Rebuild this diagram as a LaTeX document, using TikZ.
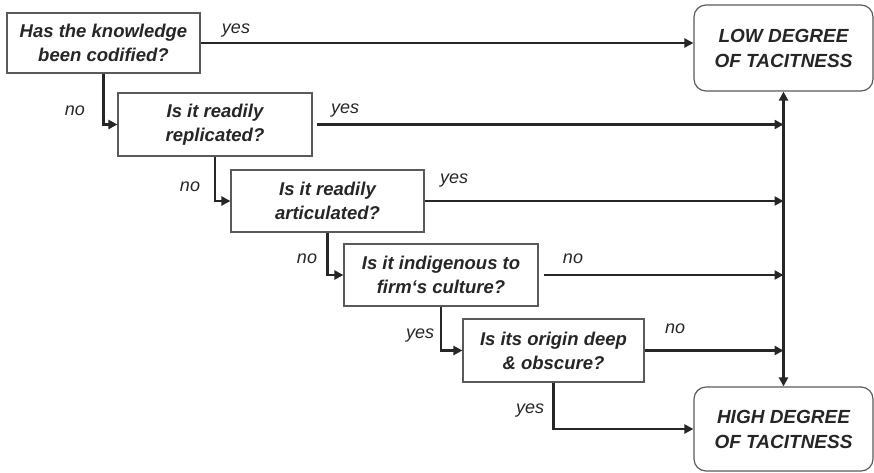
\documentclass[tikz,border=0pt]{standalone}
\usepackage{fontspec}
\setmainfont{Liberation Sans}
\usetikzlibrary{arrows.meta}
\definecolor{ink}{HTML}{262626}
\definecolor{edge}{HTML}{5A5A5A}
\begin{document}
\begin{tikzpicture}[x=1pt,y=-1pt,
  question/.style={draw=edge,line width=1.2pt,fill=white,align=center,
    font=\fontsize{18.5}{24}\selectfont\bfseries\itshape,text=ink,inner sep=0pt},
  outcome/.style={draw=edge,line width=1.2pt,rounded corners=12pt,fill=white,align=center,
    font=\fontsize{19}{25}\selectfont\bfseries\itshape,text=ink,inner sep=0pt,
    minimum width=179pt},
  tip/.style={Triangle[length=9pt,width=9pt]},
  flow/.style={draw=ink,line width=2.4pt,-{Triangle[length=9pt,width=9pt]}},
  answer/.style={font=\fontsize{18}{20}\selectfont\itshape,text=ink,inner sep=0pt}]
\useasboundingbox (0,0) rectangle (874,472);

% question boxes
\node[question,minimum width=193pt,minimum height=60pt] (q1) at (103.5,43) {Has the knowledge\\been codified?};
\node[question,minimum width=194pt,minimum height=63pt] (q2) at (215,124.5) {Is it readily\\replicated?};
\node[question,minimum width=193pt,minimum height=62pt] (q3) at (327.5,201) {Is it readily\\articulated?};
\node[question,minimum width=194pt,minimum height=62pt] (q4) at (441,275) {Is it indigenous to\\firm{\char"2018}s culture?};
\node[question,minimum width=181pt,minimum height=63pt] (q5) at (553.5,350.5) {Is its origin deep\\\& obscure?};

% outcome boxes
\node[outcome,minimum height=86pt] (low) at (783.5,48) {LOW DEGREE\\OF TACITNESS};
\node[outcome,minimum height=84pt] (high) at (783.5,429) {HIGH DEGREE\\OF TACITNESS};

% vertical collector line
\draw[flow,{Triangle[length=9pt,width=9pt]}-{Triangle[length=9pt,width=9pt]}] (low.south) -- (high.north);

% answers leading to an outcome
\draw[flow] (q1.east) -- (q1.east -| low.west);
\draw[flow,shorten <=4pt] (q2.east) -- (q2.east -| low.south);
\draw[flow] (q3.east) -- (q3.east -| low.south);
\draw[flow,shorten <=5pt] (q4.east) -- (q4.east -| low.south);
\draw[flow] (q5.east) -- (q5.east -| low.south);
\draw[flow] (q5.south) |- (high.west);

% answers leading to the next question
\draw[flow] (q1.south) |- (q2.west);
\draw[flow] (q2.south) |- (q3.west);
\draw[flow] (q3.south) |- (q4.west);
\draw[flow] (q4.south) |- (q5.west);

% answer labels
\node[answer] (a1) at (236,31) {yes};
\node[answer] (a2) at (75,111) {no};
\node[answer] (a3) at (345,111) {yes};
\node[answer] (a4) at (190,187) {no};
\node[answer] (a5) at (454,181) {yes};
\node[answer] (a6) at (307,259) {no};
\node[answer] (a7) at (573,259) {no};
\node[answer] (a8) at (420,336) {yes};
\node[answer] (a9) at (675,329) {no};
\node[answer] (a10) at (530,411) {yes};
\end{tikzpicture}
\end{document}
